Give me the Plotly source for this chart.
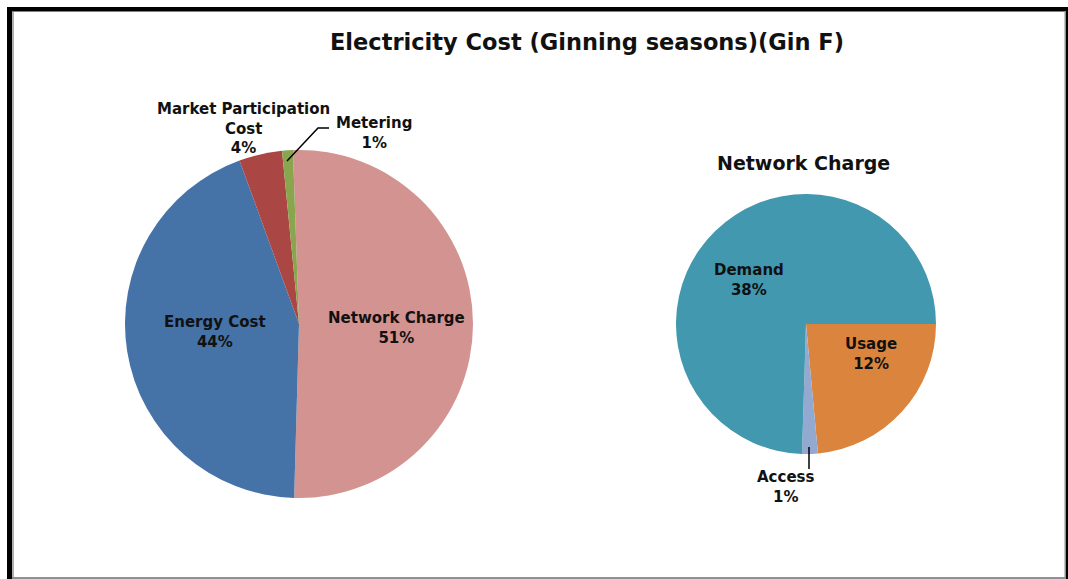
import plotly.graph_objects as go

W, H = 1068, 579

# Data
main_labels = ["Network Charge", "Energy Cost", "Market Participation Cost", "Metering"]
main_values = [51, 44, 4, 1]
main_colors = ["#D29391", "#4572A7", "#AA4643", "#89A54E"]

sub_labels = ["Usage", "Access", "Demand"]
sub_values = [12, 1, 38]
sub_colors = ["#DB843D", "#93A9CF", "#4198AF"]

title_text = "Electricity Cost (Ginning seasons)(Gin F)"
sub_title = "Network Charge"


def px(x):
    return x / W


def py(y):
    return 1 - y / H


def dom(cx, cy, r):
    return dict(x=[px(cx - r), px(cx + r)], y=[py(cy + r), py(cy - r)])


fig = go.Figure()
fig.add_trace(go.Pie(
    labels=main_labels, values=main_values, sort=False, direction="clockwise",
    rotation=-2, marker=dict(colors=main_colors, line=dict(width=0)),
    textinfo="none", domain=dom(299, 324, 174), showlegend=False, hoverinfo="label+value",
))
fig.add_trace(go.Pie(
    labels=sub_labels, values=sub_values, sort=False, direction="clockwise",
    rotation=90, marker=dict(colors=sub_colors, line=dict(width=0)),
    textinfo="none", domain=dom(806, 324, 130), showlegend=False, hoverinfo="label+value",
))

FONT = "DejaVu Sans, Verdana, sans-serif"
lab_font = dict(family=FONT, size=15, color="#111111")


def ann(text, x, y, font=lab_font):
    return dict(text=text, x=px(x), y=py(y), xref="paper", yref="paper",
                xanchor="center", yanchor="middle", showarrow=False,
                font=font, align="center")


mv = dict(zip(main_labels, main_values))
sv = dict(zip(sub_labels, sub_values))
annots = [
    ann(f"<b>Energy Cost<br>{mv['Energy Cost']}%</b>", 215, 332),
    ann(f"<b>Network Charge<br>{mv['Network Charge']}%</b>", 396, 328),
    ann(f"<b>Market Participation<br>Cost<br>{mv['Market Participation Cost']}%</b>", 243, 128),
    ann(f"<b>Metering<br>{mv['Metering']}%</b>", 374, 133),
    ann(f"<b>Demand<br>{sv['Demand']}%</b>", 749, 280),
    ann(f"<b>Usage<br>{sv['Usage']}%</b>", 871, 354),
    ann(f"<b>Access<br>{sv['Access']}%</b>", 785, 487),
    ann(f"<b>{title_text}</b>", 587, 42, dict(family=FONT, size=22.5, color="#111111")),
    ann(f"<b>{sub_title}</b>", 803, 163, dict(family=FONT, size=19, color="#111111")),
]

shapes = []
# leader lines
shapes.append(dict(type="path", xref="paper", yref="paper",
                   path=f"M {px(287)} {py(161)} L {px(318)} {py(128)} L {px(329)} {py(128)}",
                   line=dict(color="#000000", width=1.5)))
shapes.append(dict(type="line", xref="paper", yref="paper", x0=px(809), y0=py(447), x1=px(809), y1=py(469),
                   line=dict(color="#000000", width=1.5)))


def rect(x0, y0, x1, y1, color):
    return dict(type="rect", xref="paper", yref="paper", x0=px(x0), x1=px(x1), y0=py(y1), y1=py(y0),
                fillcolor=color, line=dict(width=0), layer="above")


shapes += [
    rect(7, 7, 1068, 11, "#000000"),
    rect(7, 7, 12, 579, "#000000"),
    rect(12, 11, 14, 579, "#B0B0B0"),
    rect(12, 11, 1066, 12, "#808080"),
    rect(1066, 7, 1068, 579, "#000000"),
    rect(1064.5, 11, 1066, 579, "#909090"),
    rect(12, 577, 1066, 579, "#909090"),
]

fig.update_layout(
    width=W, height=H, margin=dict(l=0, r=0, t=0, b=0),
    paper_bgcolor="#FFFFFF", plot_bgcolor="#FFFFFF",
    annotations=annots, shapes=shapes, showlegend=False,
)

fig.write_html("out.html", config={"displayModeBar": False},
               post_script="document.body.style.margin='0';document.body.style.overflow='hidden';")
